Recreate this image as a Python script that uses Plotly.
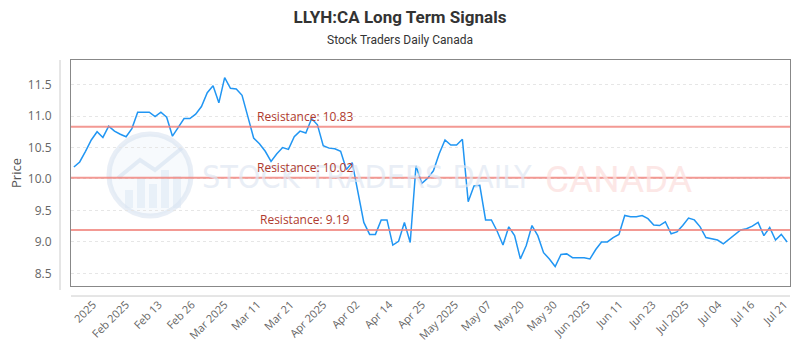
import plotly.graph_objects as go

# ---- data ----
prices = [10.19, 10.27, 10.44, 10.62, 10.75, 10.66, 10.84, 10.76, 10.71, 10.67,
          10.80, 11.06, 11.06, 11.06, 10.99, 11.06, 10.98, 10.68, 10.82, 10.96,
          10.96, 11.03, 11.15, 11.37, 11.48, 11.21, 11.61, 11.44, 11.43, 11.33,
          10.99, 10.65, 10.56, 10.44, 10.28, 10.40, 10.50, 10.47, 10.67, 10.76,
          10.73, 10.96, 10.86, 10.53, 10.49, 10.48, 10.44, 10.15, 10.26, 9.78,
          9.31, 9.12, 9.12, 9.35, 9.35, 8.95, 9.01, 9.31, 8.99, 10.21,
          9.93, 10.01, 10.13, 10.40, 10.62, 10.54, 10.54, 10.63, 9.64, 9.89,
          9.90, 9.35, 9.35, 9.17, 8.95, 9.24, 9.10, 8.73, 8.94, 9.26,
          9.10, 8.83, 8.73, 8.61, 8.80, 8.81, 8.75, 8.75, 8.75, 8.73,
          8.88, 9.00, 9.00, 9.07, 9.12, 9.42, 9.40, 9.40, 9.42, 9.37,
          9.27, 9.26, 9.32, 9.13, 9.16, 9.26, 9.38, 9.35, 9.24, 9.07,
          9.05, 9.03, 8.97, 9.04, 9.12, 9.19, 9.21, 9.25, 9.31, 9.10,
          9.23, 9.03, 9.12, 9.00]

tick_labels = ["2025", "Feb 2025", "Feb 13", "Feb 26", "Mar 2025", "Mar 11", "Mar 21",
               "Apr 2025", "Apr 02", "Apr 14", "Apr 25", "May 2025", "May 07", "May 20",
               "May 30", "Jun 2025", "Jun 11", "Jun 23", "Jul 2025", "Jul 04", "Jul 16",
               "Jul 21"]

y_ticks = [8.5, 9.0, 9.5, 10.0, 10.5, 11.0, 11.5]

resistance_levels = [10.83, 10.02, 9.19]
resistance_labels = ["Resistance: 10.83", "Resistance: 10.02", "Resistance: 9.19"]

# ---- layout helpers ----
n = len(prices)
x_idx = list(range(n))
first_tick, last_tick = 3.3, 122.5
step = (last_tick - first_tick) / (len(tick_labels) - 1)
tick_vals = [first_tick + i * step for i in range(len(tick_labels))]

L, R, T, B = 71, 10, 60, 64
W, H = 800, 350
pw, ph = W - L - R, H - T - B


def px_x(px):
    return (px - L) / pw


def px_y(py):
    return (H - B - py) / ph


fig = go.Figure()

fig.add_trace(go.Scatter(
    x=x_idx, y=prices, mode="lines",
    line=dict(color="#2196F3", width=1.5),
    hoverinfo="y", showlegend=False,
))

shapes = []
annotations = []

# watermark logo
shapes.append(dict(type="circle", xref="paper", yref="paper", layer="below",
                   x0=px_x(109), x1=px_x(191), y0=px_y(216), y1=px_y(134),
                   line=dict(color="rgba(210,222,238,0.5)", width=5),
                   fillcolor="rgba(235,242,250,0.4)"))
for bx, top in [(125, 190), (137, 178), (149, 184), (161, 170), (173, 176)]:
    shapes.append(dict(type="rect", xref="paper", yref="paper", layer="below",
                       x0=px_x(bx), x1=px_x(bx + 8), y0=px_y(208), y1=px_y(top),
                       line=dict(width=0), fillcolor="rgba(218,230,244,0.5)"))
shapes.append(dict(type="path", xref="paper", yref="paper", layer="below",
                   path=f"M {px_x(118)} {px_y(178)} L {px_x(140)} {px_y(160)} L {px_x(155)} {px_y(170)} L {px_x(182)} {px_y(148)}",
                   line=dict(color="rgba(210,222,238,0.55)", width=4)))

annotations.append(dict(text="STOCK TRADERS DAILY", xref="paper", yref="paper",
                        x=px_x(200), y=px_y(177), showarrow=False, xanchor="left",
                        font=dict(family="DejaVu Sans Condensed, Liberation Sans Narrow, sans-serif",
                                  size=32, color="rgba(224,231,242,0.7)")))
annotations.append(dict(text="CANADA", xref="paper", yref="paper",
                        x=px_x(543), y=px_y(179), showarrow=False, xanchor="left",
                        font=dict(family="Roboto, sans-serif", size=37,
                                  color="rgba(252,224,222,0.75)")))

# resistance lines
for lvl, lab in zip(resistance_levels, resistance_labels):
    shapes.append(dict(type="line", xref="paper", yref="y", x0=0, x1=1, y0=lvl, y1=lvl,
                       line=dict(color="rgba(240,128,120,0.8)", width=2), layer="above"))
    annotations.append(dict(text=lab, xref="paper", yref="y", x=px_x(305), y=lvl,
                            xanchor="center", yanchor="bottom", showarrow=False,
                            font=dict(family="Open Sans, sans-serif", size=12, color="#b03a2e")))

# detached axis lines
shapes.append(dict(type="line", xref="paper", yref="paper", x0=px_x(60), x1=px_x(60),
                   y0=px_y(290), y1=1, line=dict(color="#cccccc", width=1)))
shapes.append(dict(type="line", xref="paper", yref="paper", x0=0, x1=1,
                   y0=px_y(296), y1=px_y(296), line=dict(color="#cccccc", width=1)))

# subtitle
annotations.append(dict(text="Stock Traders Daily Canada", xref="paper", yref="paper",
                        x=px_x(400), y=px_y(40), showarrow=False,
                        xanchor="center", yanchor="middle",
                        font=dict(family="Roboto, sans-serif", size=12, color="#333333")))

fig.update_layout(
    width=W, height=H,
    margin=dict(l=L, r=R, t=T, b=B, autoexpand=False),
    paper_bgcolor="white", plot_bgcolor="white",
    title=dict(text="<b>LLYH:CA Long Term Signals</b>", x=0.5, xanchor="center",
               y=1 - 17 / H, yanchor="middle", yref="container",
               font=dict(family="Roboto, sans-serif", size=17, color="#333333")),
    shapes=shapes, annotations=annotations,
    xaxis=dict(range=[-0.5, n - 0.5], tickmode="array", tickvals=tick_vals,
               ticktext=tick_labels, tickangle=-45, showgrid=False, zeroline=False,
               showline=True, mirror=True, linecolor="#888888", linewidth=1,
               ticks="outside", ticklen=7, tickcolor="rgba(0,0,0,0)", automargin=False,
               tickfont=dict(family="Open Sans, sans-serif", size=11, color="#666666")),
    yaxis=dict(range=[8.3, 11.89], tickmode="array",
               tickvals=y_ticks, ticktext=[f"{v:.1f}" for v in y_ticks],
               showgrid=True, gridcolor="#e6e6e6", griddash="dot", gridwidth=1,
               zeroline=False, showline=True, mirror=True, linecolor="#888888", linewidth=1,
               ticks="outside", ticklen=16, tickcolor="rgba(0,0,0,0)", automargin=False,
               tickfont=dict(family="Open Sans, sans-serif", size=12, color="#666666"),
               title=dict(text="Price", standoff=3,
                          font=dict(family="Open Sans, sans-serif", size=13, color="#555555"))),
)

fig.write_html("out.html")
